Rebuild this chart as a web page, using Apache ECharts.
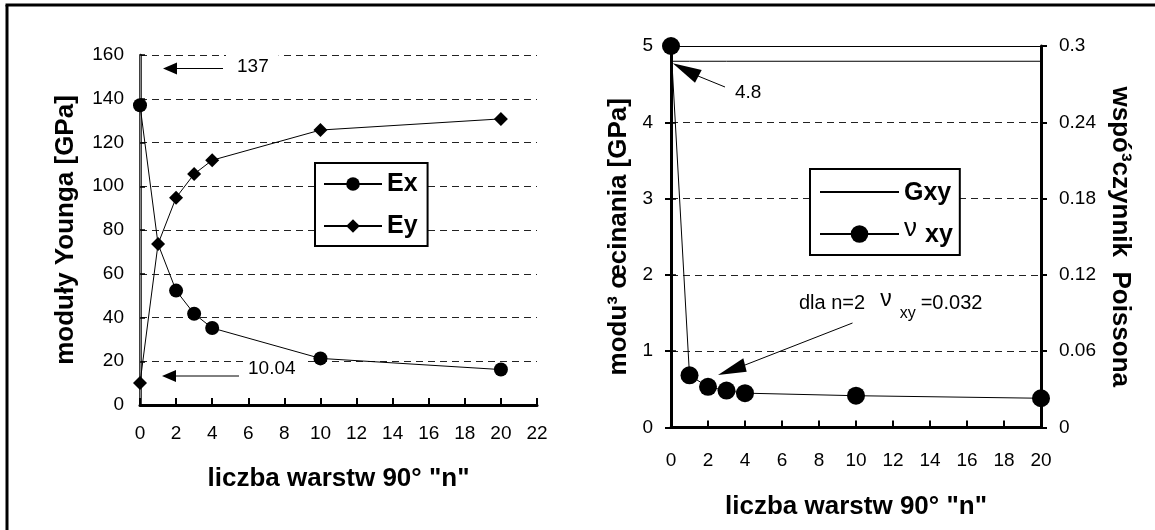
<!DOCTYPE html>
<html>
<head>
<meta charset="utf-8">
<script src="https://cdn.jsdelivr.net/npm/echarts@6/dist/echarts.min.js"></script>
<style>
  html, body { margin: 0; padding: 0; background: #fff; }
  #chart { width: 1155px; height: 530px; }
</style>
</head>
<body>
<div id="chart"></div>
<script>
  // liczba warstw 90° "n"
  var layers = [0, 1, 2, 3, 4, 10, 20];
  // left panel: moduły Younga [GPa]
  var exValues = [137, 73.6, 52.3, 41.7, 35.2, 21.3, 16.2];
  var eyValues = [10.04, 73.6, 94.8, 105.6, 111.9, 125.7, 130.8];
  // right panel: Gxy [GPa] and Poisson ratio
  var gxyValues = [4.8, 4.8, 4.8, 4.8, 4.8, 4.8, 4.8];
  var nuValues = [0.3, 0.041, 0.032, 0.029, 0.027, 0.025, 0.023];

  var FONT = 'Liberation Sans, Arial, sans-serif';

  function pairs(vals) {
    return layers.map(function (n, i) { return [n, vals[i]]; });
  }

  var exData = pairs(exValues).map(function (p, i) {
    // no circle drawn at n=1 (hidden under the diamond)
    return i === 1 ? { value: p, symbolSize: 0 } : p;
  });

  var tickLabel = { color: '#000', fontFamily: FONT, fontSize: 19 };
  var axisTitle = { color: '#000', fontFamily: FONT, fontSize: 26, fontWeight: 'bold' };
  var dashed = { show: true, lineStyle: { color: '#222', type: [7, 5], width: 1 } };

  var chart = echarts.init(document.getElementById('chart'), null, { renderer: 'canvas' });

  var option = {
    animation: false,
    backgroundColor: '#fff',
    textStyle: { fontFamily: FONT },
    grid: [
      { left: 140, top: 55, width: 397, height: 350 },
      { left: 671, top: 46, width: 370, height: 381.5 }
    ],
    xAxis: [
      {
        gridIndex: 0, type: 'value', min: 0, max: 22, interval: 2,
        name: 'liczba warstw 90° "n"', nameLocation: 'middle', nameGap: 61,
        nameTextStyle: axisTitle,
        axisLine: { show: true, onZero: false, lineStyle: { color: '#000', width: 3 } },
        axisTick: { show: true, inside: true, length: 7, lineStyle: { color: '#000', width: 2 } },
        axisLabel: Object.assign({ margin: 19 }, tickLabel),
        splitLine: { show: false }
      },
      {
        gridIndex: 1, type: 'value', min: 0, max: 20, interval: 2,
        name: 'liczba warstw 90° "n"', nameLocation: 'middle', nameGap: 66,
        nameTextStyle: axisTitle,
        axisLine: { show: true, onZero: false, lineStyle: { color: '#000', width: 3 } },
        axisTick: { show: true, inside: true, length: 7, lineStyle: { color: '#000', width: 2 } },
        axisLabel: Object.assign({ margin: 24 }, tickLabel),
        splitLine: { show: false }
      },
      {
        gridIndex: 1, type: 'value', min: 0, max: 20, position: 'top',
        axisLine: { show: true, onZero: false, lineStyle: { color: '#000', width: 1 } },
        axisTick: { show: false }, axisLabel: { show: false }, splitLine: { show: false }
      }
    ],
    yAxis: [
      {
        gridIndex: 0, type: 'value', min: 0, max: 160, interval: 20,
        name: 'moduły Younga [GPa]', nameLocation: 'middle', nameGap: 61, nameRotate: 90,
        nameTextStyle: axisTitle,
        axisLine: { show: true, onZero: false, lineStyle: { color: '#000', width: 2.5 } },
        axisTick: { show: true, inside: true, length: 5, lineStyle: { color: '#000', width: 1.5 } },
        axisLabel: Object.assign({ margin: 16 }, tickLabel),
        splitLine: dashed
      },
      {
        gridIndex: 0, type: 'value', min: 0, max: 160, position: 'right',
        axisLine: { show: true, lineStyle: { color: '#888', width: 1 } },
        axisTick: { show: false }, axisLabel: { show: false }, splitLine: { show: false }
      },
      {
        gridIndex: 1, type: 'value', min: 0, max: 5, interval: 1,
        name: 'modu³ œcinania [GPa]', nameLocation: 'middle', nameGap: 39, nameRotate: 90,
        nameTextStyle: axisTitle,
        axisLine: { show: true, onZero: false, lineStyle: { color: '#000', width: 3 } },
        axisTick: { show: true, inside: true, length: 5, lineStyle: { color: '#000', width: 1.5 } },
        axisLabel: Object.assign({ margin: 18 }, tickLabel),
        splitLine: dashed
      },
      {
        gridIndex: 1, type: 'value', min: 0, max: 0.3, interval: 0.06, position: 'right',
        name: 'wspó³czynnik  Poissona', nameLocation: 'middle', nameGap: 66, nameRotate: -90,
        nameTextStyle: axisTitle,
        axisLine: { show: true, onZero: false, lineStyle: { color: '#000', width: 3 } },
        axisTick: { show: true, inside: false, length: 6, lineStyle: { color: '#000', width: 2 } },
        axisLabel: Object.assign({
          margin: 18,
          formatter: function (v) { return String(+v.toFixed(2)); }
        }, tickLabel),
        splitLine: { show: false }
      },
      {
        gridIndex: 1, type: 'value', min: 0, max: 0.3, interval: 0.06, position: 'right',
        axisLine: { show: false },
        axisTick: { show: true, inside: true, length: 6, lineStyle: { color: '#000', width: 2 } },
        axisLabel: { show: false }, splitLine: { show: false }
      }
    ],
    legend: [
      {
        left: 315, top: 163, orient: 'vertical',
        data: ['Ex', 'Ey'],
        backgroundColor: '#fff', borderColor: '#000', borderWidth: 2,
        padding: [6, 10, 5, 8],
        itemWidth: 58, itemHeight: 17, itemGap: 12,
        textStyle: { color: '#000', fontFamily: FONT, fontSize: 25, fontWeight: 'bold', lineHeight: 30 }
      },
      {
        left: 810, top: 169, orient: 'vertical',
        data: [{ name: 'Gxy', itemStyle: { opacity: 0 } }, 'νxy'],
        backgroundColor: '#fff', borderColor: '#000', borderWidth: 2,
        padding: [8, 7, 6, 9],
        itemWidth: 79, itemHeight: 22, itemGap: 9,
        formatter: function (name) {
          return name === 'νxy' ? '{nu|ν}{b|xy}' : '{b|' + name + '}';
        },
        textStyle: {
          color: '#000', fontFamily: FONT, fontSize: 25, lineHeight: 30,
          rich: {
            b: { fontFamily: FONT, fontSize: 25, fontWeight: 'bold', color: '#000', padding: [3, 0, 0, 0] },
            nu: { fontFamily: FONT, fontSize: 26, color: '#000', padding: [0, 8, 10, 0] }
          }
        }
      }
    ],
    series: [
      {
        name: 'Ex', type: 'line', xAxisIndex: 0, yAxisIndex: 0,
        data: exData,
        symbol: 'circle', symbolSize: 14,
        lineStyle: { color: '#000', width: 1 },
        itemStyle: { color: '#000' }
      },
      {
        name: 'Ey', type: 'line', xAxisIndex: 0, yAxisIndex: 0,
        data: pairs(eyValues),
        symbol: 'diamond', symbolSize: 14,
        lineStyle: { color: '#000', width: 1 },
        itemStyle: { color: '#000' }
      },
      {
        name: 'Gxy', type: 'line', xAxisIndex: 1, yAxisIndex: 2,
        data: pairs(gxyValues),
        symbol: 'none',
        lineStyle: { color: '#000', width: 1 },
        itemStyle: { color: '#000' }
      },
      {
        name: 'νxy', type: 'line', xAxisIndex: 1, yAxisIndex: 3,
        data: pairs(nuValues),
        symbol: 'circle', symbolSize: 18,
        lineStyle: { color: '#000', width: 1 },
        itemStyle: { color: '#000' }
      }
    ],
    graphic: [
      // outer frame
      { type: 'line', shape: { x1: 7, y1: 5, x2: 7, y2: 530 }, style: { stroke: '#000', lineWidth: 3 }, z: 100 },
      { type: 'line', shape: { x1: 5.5, y1: 5, x2: 1155, y2: 5 }, style: { stroke: '#000', lineWidth: 3 }, z: 100 },

      // "137" annotation
      { type: 'text', left: 226, top: 54, z: 100,
        style: { text: '137', fill: '#000', font: '19px ' + FONT, backgroundColor: '#fff', padding: [3, 10, 3, 11] } },
      { type: 'line', shape: { x1: 223, y1: 68.5, x2: 176, y2: 68.5 }, style: { stroke: '#000', lineWidth: 1 }, z: 101 },
      { type: 'polygon', shape: { points: [[163, 68.5], [177, 62.5], [177, 74.5]] }, style: { fill: '#000' }, z: 101 },

      // "10.04" annotation
      { type: 'text', left: 244, top: 356, z: 100,
        style: { text: '10.04', fill: '#000', font: '19px ' + FONT, backgroundColor: '#fff', padding: [3, 12, 3, 4] } },
      { type: 'line', shape: { x1: 239, y1: 376, x2: 175, y2: 376 }, style: { stroke: '#000', lineWidth: 1 }, z: 101 },
      { type: 'polygon', shape: { points: [[162, 376], [176, 370], [176, 382]] }, style: { fill: '#000' }, z: 101 },

      // "4.8" annotation
      { type: 'text', left: 735, top: 83, z: 100,
        style: { text: '4.8', fill: '#000', font: '19px ' + FONT } },
      { type: 'line', shape: { x1: 725, y1: 87, x2: 698, y2: 76 }, style: { stroke: '#000', lineWidth: 1 }, z: 101 },
      { type: 'polygon', shape: { points: [[672.7, 63.3], [701.7, 70], [695, 82.7]] }, style: { fill: '#000' }, z: 101 },

      // "dla n=2  νxy =0.032" annotation
      { type: 'text', left: 799, top: 288, z: 100,
        style: {
          text: '{t|dla n=2}{nu|ν}{s|xy}{t|=0.032}',
          rich: {
            t: { fontFamily: FONT, fontSize: 20, fill: '#000' },
            nu: { fontFamily: FONT, fontSize: 23, fill: '#000', padding: [0, 8, 8, 15] },
            s: { fontFamily: FONT, fontSize: 16, fill: '#000', padding: [20, 5, 0, 0] }
          }
        } },
      { type: 'line', shape: { x1: 852.5, y1: 323, x2: 745, y2: 365 }, style: { stroke: '#000', lineWidth: 1 }, z: 101 },
      { type: 'polygon', shape: { points: [[718, 375], [743.3, 358.3], [746.7, 371.7]] }, style: { fill: '#000' }, z: 101 }
    ]
  };

  chart.setOption(option);
</script>
</body>
</html>
